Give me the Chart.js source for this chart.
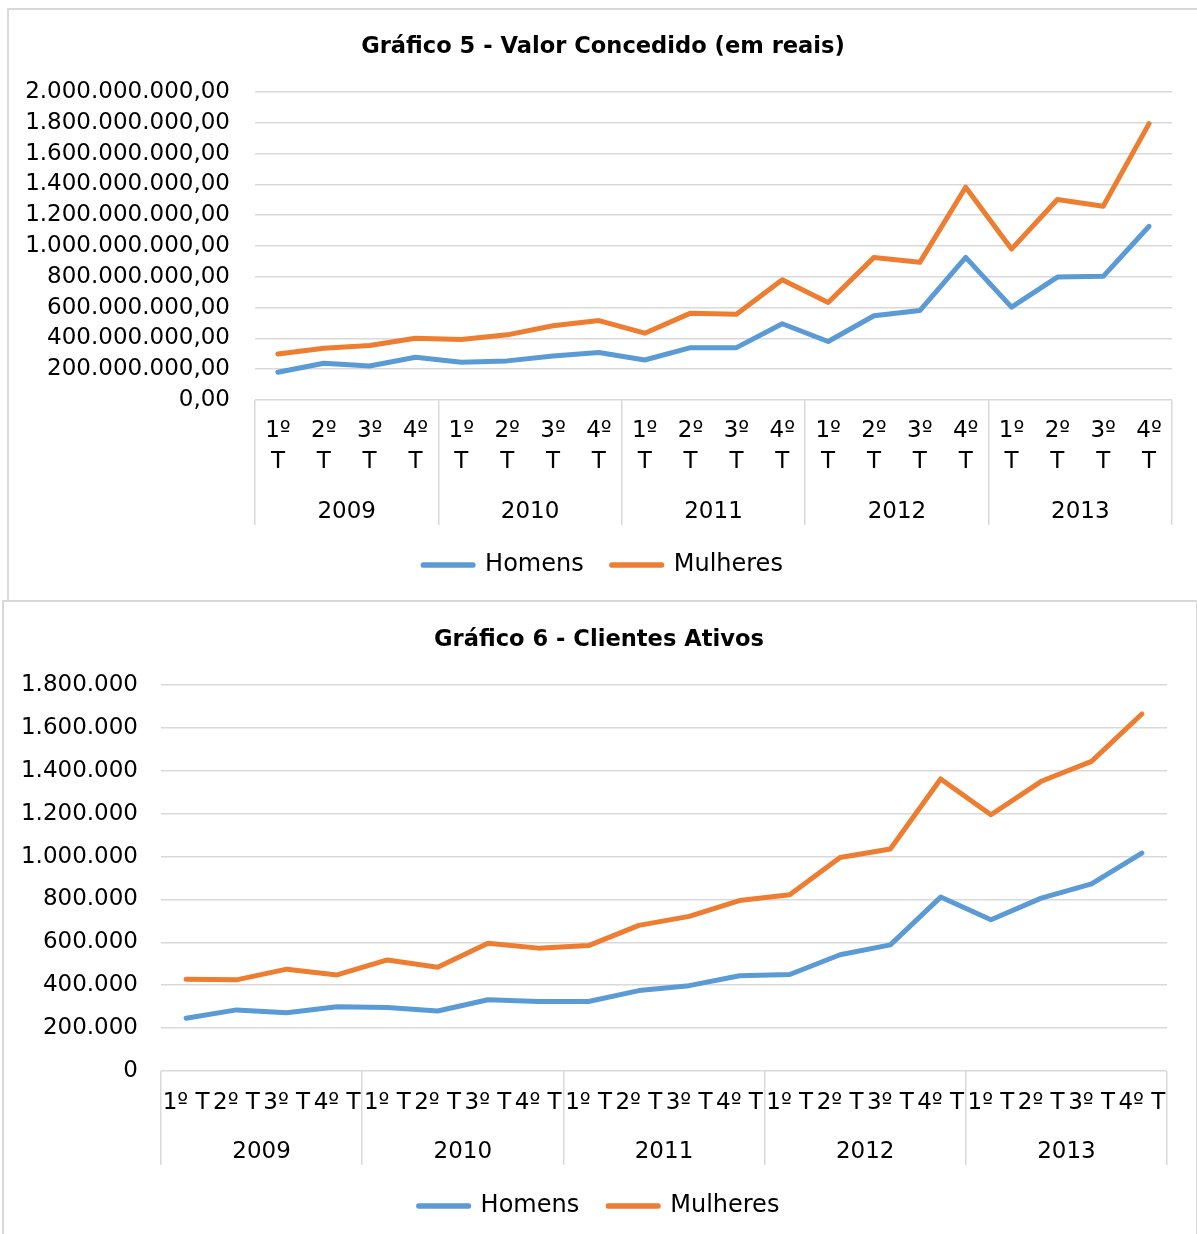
<!DOCTYPE html>
<html>
<head>
<meta charset="utf-8">
<script src="https://cdn.jsdelivr.net/npm/chart.js@4/dist/chart.umd.min.js"></script>
<style>
  body { margin: 0; background: #fff; width: 1197px; height: 1234px; overflow: hidden; position: relative; }
  .box { position: absolute; border: 2px solid #d9d9d9; background: #fff; box-sizing: border-box; }
  canvas { position: absolute; }
</style>
</head>
<body>
<div class="box" style="left:7px; top:8px; width:1200px; height:600px;"></div>
<div class="box" style="left:2px; top:600px; width:1196px; height:640px;"></div>
<canvas id="grafico5" width="1188" height="590" style="left:9px; top:10px;"></canvas>
<canvas id="grafico6" width="1190" height="631" style="left:4px; top:603px;"></canvas>
<script>
var years = ['2009', '2010', '2011', '2012', '2013'];
var quarters = ['1º T', '2º T', '3º T', '4º T'];

// Gráfico 5 - valor concedido (reais)
var valorHomens = [180000000, 239000000, 221000000, 278000000, 245000000, 254000000, 286000000, 308000000, 260000000, 340000000,
                   340000000, 495000000, 380000000, 547000000, 581000000, 926000000, 603000000, 798000000, 803000000, 1128000000];
var valorMulheres = [299000000, 336000000, 354000000, 401000000, 393000000, 423000000, 482000000, 516000000, 434000000, 564000000,
                     557000000, 781000000, 633000000, 926000000, 894000000, 1382000000, 980000000, 1302000000, 1258000000, 1795000000];

// Gráfico 6 - clientes ativos
var clientesHomens = [246000, 285000, 272000, 300000, 296000, 280000, 332000, 324000, 324000, 375000,
                      398000, 444000, 450000, 542000, 588000, 811000, 705000, 806000, 873000, 1016000];
var clientesMulheres = [428000, 425000, 475000, 448000, 518000, 484000, 596000, 573000, 585000, 679000,
                        721000, 795000, 822000, 996000, 1035000, 1362000, 1195000, 1351000, 1444000, 1665000];

var azul = '#5b9bd5';
var laranja = '#ed7d31';
var cinza = '#d9d9d9';

Chart.defaults.font.family = 'DejaVu Sans';
Chart.defaults.color = '#000';

function fmtBR(v, decimais) {
  var s = Math.round(v).toString().replace(/\B(?=(\d{3})+(?!\d))/g, '.');
  return decimais ? s + ',00' : s;
}

function serie(label, data, color) {
  return {
    label: label,
    data: data,
    borderColor: color,
    backgroundColor: color,
    borderWidth: 5,
    borderCapStyle: 'round',
    borderJoinStyle: 'round',
    pointRadius: 0,
    pointHoverRadius: 0,
    tension: 0
  };
}

function makeChart(id, cfg) {
  var labels = [];
  years.forEach(function (y) {
    quarters.forEach(function (q) {
      labels.push(cfg.splitLabels ? q.split(' ') : q);
    });
  });

  return new Chart(document.getElementById(id), {
    type: 'line',
    data: {
      labels: labels,
      datasets: [serie('Homens', cfg.homens, azul), serie('Mulheres', cfg.mulheres, laranja)]
    },
    options: {
      responsive: false,
      animation: false,
      layout: { padding: { left: 0, right: 0, top: 0, bottom: cfg.padBottom } },
      plugins: {
        title: {
          display: true,
          text: cfg.title,
          font: { size: 22.6, weight: 'bold' },
          color: '#000',
          padding: { top: 23.4, bottom: 31.5 }
        },
        legend: {
          position: 'bottom',
          labels: {
            font: { size: 24 },
            boxWidth: 50,
            boxHeight: 0.5,
            padding: cfg.legendPad,
            color: '#000'
          }
        },
        tooltip: { enabled: false }
      },
      scales: {
        x: {
          type: 'category',
          position: 'bottom',
          weight: 0,
          offset: true,
          grid: {
            offset: true,
            drawOnChartArea: false,
            drawTicks: true,
            tickLength: cfg.divider,
            lineWidth: 1.5,
            color: function (ctx) {
              if (ctx.type !== 'tick' || ctx.index % 4 === 0) return cinza;
              return 'rgba(0,0,0,0)';
            }
          },
          border: { display: false },
          ticks: {
            autoSkip: false,
            maxRotation: 0,
            minRotation: 0,
            font: { size: 23, lineHeight: 1.35 },
            padding: cfg.xPad
          },
          afterFit: function (scale) { scale.height = cfg.xHeight; }
        },
        x2: {
          type: 'category',
          position: 'bottom',
          weight: 1,
          labels: years,
          offset: true,
          grid: { display: false },
          border: { display: false },
          ticks: { font: { size: 23 }, padding: cfg.x2Pad, maxRotation: 0 },
          afterFit: function (scale) { scale.height = cfg.x2Height; }
        },
        y: {
          min: 0,
          max: cfg.max,
          grid: { color: cinza, lineWidth: 1.5, drawTicks: false },
          border: { display: false },
          ticks: {
            stepSize: cfg.step,
            padding: cfg.yPad,
            font: { size: 23 },
            callback: function (v) { return fmtBR(v, cfg.decimais); }
          },
          afterFit: function (scale) { scale.width = cfg.yWidth; }
        },
        // empty right margin so the title and legend stay centred on the whole box
        margem: {
          type: 'linear',
          position: 'right',
          grid: { display: false },
          border: { display: false },
          ticks: { display: false },
          afterFit: function (scale) { scale.width = cfg.rightGap; }
        }
      }
    }
  });
}

makeChart('grafico5', {
  title: 'Gráfico 5 - Valor Concedido (em reais)',
  homens: valorHomens,
  mulheres: valorMulheres,
  splitLabels: true,
  max: 2000000000,
  step: 200000000,
  decimais: true,
  yWidth: 246,
  yPad: 25,
  rightGap: 25,
  padBottom: 13,
  divider: 125,
  xPad: -109.5,
  xHeight: 85,
  x2Pad: 5,
  x2Height: 40,
  legendPad: 28
});

makeChart('grafico6', {
  title: 'Gráfico 6 - Clientes Ativos',
  homens: clientesHomens,
  mulheres: clientesMulheres,
  splitLabels: false,
  max: 1800000,
  step: 200000,
  decimais: false,
  yWidth: 157,
  yPad: 23,
  rightGap: 27,
  padBottom: 6,
  divider: 94,
  xPad: -77,
  xHeight: 50,
  x2Pad: 9,
  x2Height: 44,
  legendPad: 29
});
</script>
</body>
</html>
